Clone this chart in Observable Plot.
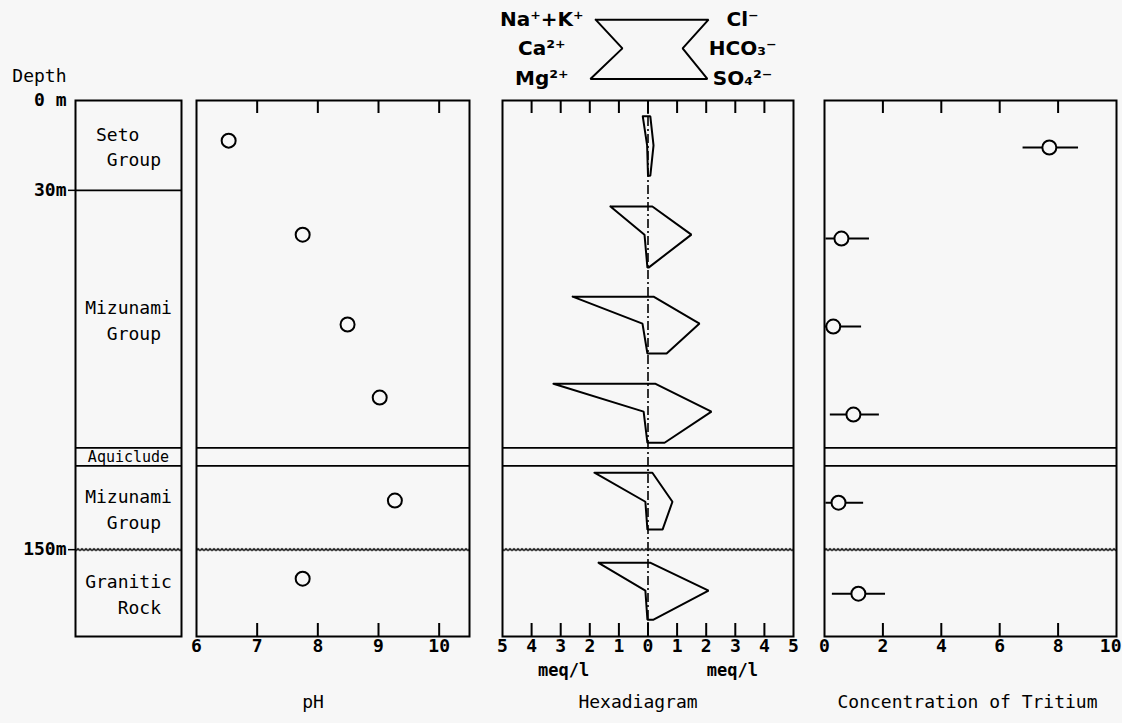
<!DOCTYPE html>
<html>
<head>
<meta charset="utf-8">
<script src="https://cdn.jsdelivr.net/npm/d3@7"></script>
<script src="https://cdn.jsdelivr.net/npm/@observablehq/plot@0.6"></script>
<style>
html, body { margin: 0; padding: 0; background: #f7f7f7; }
#chart { position: relative; width: 1122px; height: 723px; }
#chart svg.plotlayer { position: absolute; left: 0; top: 0; }
</style>
</head>
<body>
<svg width="0" height="0" style="position:absolute">
  <defs>
    <pattern id="wave" patternUnits="userSpaceOnUse" x="0" y="0" width="4" height="20">
      <path d="M0,10.9 L2,9.1 L4,10.9" fill="none" stroke="black" stroke-width="1.5"/>
    </pattern>
  </defs>
</svg>
<div id="chart"></div>
<script>
// ---------------- data ----------------
// geological column (depth in m)
const unitLabels = ["Seto\u00a0\u00a0\n\u00a0Group", "Mizunami\n\u00a0\u00a0Group\u00a0", "Aquiclude", "Mizunami\n\u00a0\u00a0Group\u00a0", "Granitic\n\u00a0\u00a0\u00a0Rock\u00a0"];
const unitTop = [0, 30, 116, 122, 150];
const unitBottom = [30, 116, 122, 150, 179];
const solidBoundaries = [30, 116, 122];
const aquicludeBounds = [116, 122];
const unconformity = [150];
const depthTickValues = [0, 30, 150];
const depthTickLabels = ["0 m", "30m", "150m"];

// pH
const phDepth = [13.4, 44.8, 74.8, 99.2, 133.6, 159.7];
const phValue = [6.53, 7.75, 8.49, 9.02, 9.27, 7.75];
const phTicks = [7, 8, 9, 10];
const phTickLabels = [6, 7, 8, 9, 10];

// Hexadiagram (meq/l)
const hexTopDepth = [5.3, 35.4, 65.5, 94.6, 124.3, 154.4];
const hexMidDepth = [15.0, 44.8, 74.5, 103.9, 134.0, 163.7];
const hexBottomDepth = [25.1, 55.8, 84.5, 114.3, 143.3, 173.4];
const naK  = [0.18, 1.29, 2.59, 3.25, 1.84, 1.70];
const ca   = [0.03, 0.12, 0.19, 0.15, 0.09, 0.09];
const mg   = [0.00, 0.02, 0.02, 0.02, 0.02, 0.02];
const cl   = [0.08, 0.15, 0.19, 0.26, 0.15, 0.09];
const hco3 = [0.19, 1.49, 1.77, 2.18, 0.84, 2.08];
const so4  = [0.08, 0.02, 0.64, 0.57, 0.50, 0.19];
const hexTicks = [-4, -3, -2, -1, 0, 1, 2, 3, 4];
const hexTickLabels = [-5, -4, -3, -2, -1, 0, 1, 2, 3, 4, 5];
const leftIons = ["Na\u207A+K\u207A", "Ca\u00B2\u207A", "Mg\u00B2\u207A"];
const rightIons = ["Cl\u207B", "HCO\u2083\u207B", "SO\u2084\u00B2\u207B"];
// legend key (schematic hexagon, meq/l units above the surface)
const keyRowDepth = [-27, -17.4, -7.2];
const keyLeft = [-1.8, -0.88, -1.98];
const keyRight = [2.08, 1.19, 2.04];

// Tritium
const tritiumDepth = [15.7, 46.1, 75.5, 104.9, 134.3, 164.7];
const tritiumValue = [7.7, 0.58, 0.3, 0.99, 0.48, 1.16];
const tritiumLow   = [6.8, 0.05, 0.0, 0.2, 0.05, 0.27];
const tritiumHigh  = [8.7, 1.54, 1.27, 1.88, 1.34, 2.09];
const tritiumTicks = [2, 4, 6, 8];
const tritiumTickLabels = [0, 2, 4, 6, 8, 10];

// ---------------- layout ----------------
const W = 1122, H = 723, TOP = 100, BOTTOM = 636;
const FRAME_H = BOTTOM - TOP;
const depthDomain = [0, 179];
const MONO = "DejaVu Sans Mono";
const BG = "#f7f7f7";

function panel(left, right, xDomain, marks) {
  const p = Plot.plot({
    width: W, height: H,
    marginTop: TOP, marginBottom: H - BOTTOM,
    marginLeft: left, marginRight: W - right,
    x: {domain: xDomain, axis: null},
    y: {domain: depthDomain, reverse: true, axis: null},
    style: {background: "transparent", overflow: "visible", fontFamily: MONO, color: "black"},
    marks
  });
  p.classList.add("plotlayer");
  return p;
}

const stratRules = () => [
  Plot.ruleY(aquicludeBounds, {stroke: "black", strokeWidth: 1.8}),
  Plot.ruleY(unconformity, {stroke: "url(#wave)", strokeWidth: 4})
];
const ticksTB = (vals) => [
  Plot.ruleX(vals, {x: d => d, insetBottom: FRAME_H - 13, stroke: "black", strokeWidth: 2}),
  Plot.ruleX(vals, {x: d => d, insetTop: FRAME_H - 13, stroke: "black", strokeWidth: 2})
];
const tickText = (vals, fmt = d => String(d), opts = {}) =>
  Plot.text(vals, {x: d => d, frameAnchor: "bottom", dy: 15, text: fmt, fontSize: 18, fontWeight: "bold", fill: "black", ...opts});
const title = (label, dx) =>
  Plot.text([label], {frameAnchor: "bottom", dy: 71, dx, text: d => d, fontSize: 18, fill: "black"});
const frame = () => Plot.frame({stroke: "black", strokeWidth: 2});

// ---------- geological column ----------
const units = unitLabels.map((label, i) => ({label, top: unitTop[i], bottom: unitBottom[i], mid: (unitTop[i] + unitBottom[i]) / 2}));
const depthLabels = depthTickValues.map((d, i) => ({depth: d, label: depthTickLabels[i]}));

const geo = panel(75, 181, [0, 1], [
  Plot.ruleY(solidBoundaries, {stroke: "black", strokeWidth: 1.8}),
  Plot.ruleY(unconformity, {stroke: "url(#wave)", strokeWidth: 4}),
  frame(),
  Plot.text(units.filter(u => u.bottom - u.top > 10), {x: 0.5, y: "mid", text: "label", fontSize: 18, lineHeight: 1.42, fill: "black"}),
  Plot.text(units.filter(u => u.bottom - u.top <= 10), {x: 0.5, y: "mid", text: "label", fontSize: 15, fill: "black"}),
  Plot.ruleY(depthTickValues.filter(d => d > 0), {insetRight: (181 - 75) - 7, dx: -7, stroke: "black", strokeWidth: 1.5}),
  Plot.text(depthLabels, {y: "depth", text: "label", frameAnchor: "left", textAnchor: "end", dx: -9, fontSize: 18, fontWeight: "bold", fill: "black"}),
  Plot.text(["Depth"], {frameAnchor: "top-left", text: d => d, textAnchor: "end", dx: -9, dy: -31, fontSize: 18, fill: "black"})
]);

// ---------- pH ----------
const phData = phValue.map((v, i) => ({ph: v, depth: phDepth[i]}));
const ph = panel(196, 469, [6, 10.5], [
  ...stratRules(),
  frame(),
  ...ticksTB(phTicks),
  tickText(phTickLabels),
  Plot.dot(phData, {x: "ph", y: "depth", r: 7, stroke: "black", strokeWidth: 2, fill: BG}),
  title("pH", -20)
]);

// ---------- Hexadiagram ----------
const hexPts = [];
naK.forEach((_, i) => {
  const poly = [
    [-naK[i], hexTopDepth[i]],
    [cl[i], hexTopDepth[i]],
    [hco3[i], hexMidDepth[i]],
    [so4[i], hexBottomDepth[i]],
    [-mg[i], hexBottomDepth[i]],
    [-ca[i], hexMidDepth[i]],
    [-naK[i], hexTopDepth[i]]
  ];
  poly.forEach(([x, y]) => hexPts.push({sample: i, x, y}));
});
const keyPoly = [
  {x: keyLeft[0], y: keyRowDepth[0]},
  {x: keyRight[0], y: keyRowDepth[0]},
  {x: keyRight[1], y: keyRowDepth[1]},
  {x: keyRight[2], y: keyRowDepth[2]},
  {x: keyLeft[2], y: keyRowDepth[2]},
  {x: keyLeft[1], y: keyRowDepth[1]},
  {x: keyLeft[0], y: keyRowDepth[0]}
];
const ionLabels = [
  ...leftIons.map((t, i) => ({t, x: -3.65, y: keyRowDepth[i]})),
  ...rightIons.map((t, i) => ({t, x: 3.25, y: keyRowDepth[i]}))
];
const hex = panel(502, 793, [-5, 5], [
  ...stratRules(),
  Plot.ruleX([0], {stroke: "black", strokeWidth: 1.6, strokeDasharray: "9,3,2,3"}),
  frame(),
  ...ticksTB(hexTicks),
  tickText(hexTickLabels, d => String(Math.abs(d))),
  Plot.line(hexPts, {x: "x", y: "y", z: "sample", stroke: "black", strokeWidth: 2, strokeLinejoin: "miter"}),
  Plot.line(keyPoly, {x: "x", y: "y", stroke: "black", strokeWidth: 2, strokeLinejoin: "miter"}),
  Plot.text(ionLabels, {x: "x", y: "y", text: "t", fontSize: 20, fontWeight: "bold", fontFamily: "DejaVu Sans", fill: "black"}),
  Plot.text(["meq/l", "meq/l"], {x: [-2.9, 2.9], frameAnchor: "bottom", dy: 39, text: d => d, fontSize: 17, fontWeight: "bold", fill: "black"}),
  title("Hexadiagram", -10)
]);

// ---------- Tritium ----------
const tritData = tritiumValue.map((v, i) => ({v, depth: tritiumDepth[i], lo: tritiumLow[i], hi: tritiumHigh[i]}));
const tritEdge = tritiumTickLabels[tritiumTickLabels.length - 1];
const trit = panel(824, 1116, [0, 10], [
  ...stratRules(),
  frame(),
  ...ticksTB(tritiumTicks),
  tickText(tritiumTickLabels.filter(d => d !== tritEdge)),
  tickText([tritEdge], d => String(d), {textAnchor: "end", dx: 5}),
  Plot.ruleY(tritData, {y: "depth", x1: "lo", x2: "hi", stroke: "black", strokeWidth: 2}),
  Plot.dot(tritData, {x: "v", y: "depth", r: 7, stroke: "black", strokeWidth: 2, fill: BG}),
  title("Concentration of Tritium", -3)
]);

const chart = document.getElementById("chart");
[geo, ph, hex, trit].forEach(p => chart.appendChild(p));

// align the wavy unconformity pattern to the 150 m line
const yw = geo.scale("y").apply(unconformity[0]);
document.getElementById("wave").setAttribute("y", yw - 10);
</script>
</body>
</html>
